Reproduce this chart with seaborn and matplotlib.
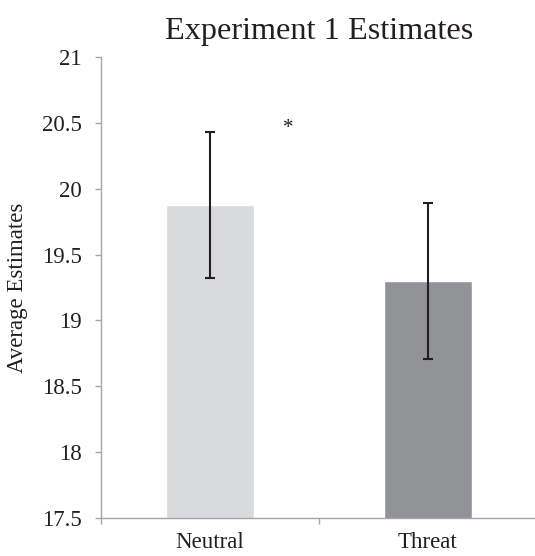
import matplotlib
matplotlib.use("Agg")
import matplotlib.pyplot as plt
import seaborn as sns
import pandas as pd
import numpy as np

categories = ["Neutral", "Threat"]
means = [19.88, 19.30]
err_low = [19.32, 18.71]
err_high = [20.43, 19.89]
bar_colors = ["#d9dadc", "#929396"]
y_ticks = [17.5, 18, 18.5, 19, 19.5, 20, 20.5, 21]
y_tick_labels = ["17.5", "18", "18.5", "19", "19.5", "20", "20.5", "21"]

sns.set_theme(style="white")
plt.rcParams["font.family"] = ["Liberation Serif", "DejaVu Serif"]

df = pd.DataFrame({"Condition": categories, "Estimate": means})

fig = plt.figure(figsize=(5.35, 5.56), dpi=100)
ax = fig.add_axes([101/535, 38/556, 436/535, 461/556])

sns.barplot(data=df, x="Condition", y="Estimate", hue="Condition",
            palette=bar_colors, width=0.4, errorbar=None, legend=False,
            ax=ax, saturation=1)

x = np.arange(len(categories))
m = np.array(means)
lo = m - np.array(err_low)
hi = np.array(err_high) - m
ax.errorbar(x, m, yerr=[lo, hi], fmt="none", ecolor="#231f20",
            elinewidth=1.5, capsize=3.8, capthick=1.5, zorder=5)

ax.set_ylim(17.5, 21)
ax.set_xlim(-0.5, 1.5)
ax.set_yticks(y_ticks)
ax.set_yticklabels(y_tick_labels)
ax.set_xlabel("")
ax.set_ylabel("")

for s in ["top", "right"]:
    ax.spines[s].set_visible(False)
for s in ["left", "bottom"]:
    ax.spines[s].set_color("#a6a6a6")
    ax.spines[s].set_linewidth(1.0)

ax.tick_params(axis="y", which="major", left=True, length=4, width=1.0,
               color="#a6a6a6", labelsize=16.5, pad=10, labelcolor="#231f20")
ax.tick_params(axis="x", which="major", bottom=False, length=0,
               labelsize=16.5, pad=10, labelcolor="#231f20")
ax.set_xticks([-0.5, 0.5, 1.5], minor=True)
ax.tick_params(axis="x", which="minor", bottom=True, length=4, width=1.0,
               color="#a6a6a6")

ax.text(0.36, 20.46, "*", ha="center", va="center", fontsize=15, color="#231f20")

fig.text(319/535, 1 - 31/556, "Experiment 1 Estimates", ha="center", va="center",
         fontsize=23.2, color="#231f20")
fig.text(18/535, 1 - 288/556, "Average Estimates", ha="center", va="center",
         rotation=90, fontsize=16.5, color="#231f20")

fig.savefig("out.png", dpi=100, facecolor="white")
